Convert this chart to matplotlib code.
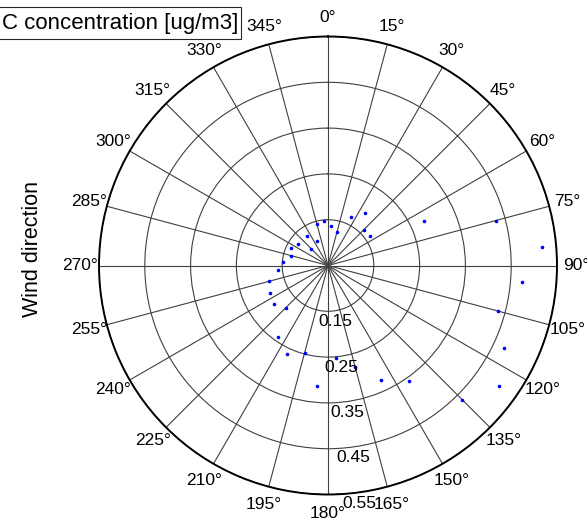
"""Polar scatter of concentration by wind direction (MATLAB-style polaraxes look).

One point per 10-degree wind sector, compass convention: 0 deg at the top,
angles increasing clockwise. The radial axis starts at 0.05, so the centre of
the plot is 0.05 rather than zero.
"""

import matplotlib

matplotlib.use("Agg")
import matplotlib.pyplot as plt  # noqa: E402
import numpy as np  # noqa: E402
from matplotlib.patches import Rectangle  # noqa: E402

plt.rcParams["font.family"] = ["Liberation Sans", "DejaVu Sans"]

# --- data: sector centre (deg) -> concentration ---
SECTOR_DEG = [5, 15, 25, 35, 45, 55, 65, 75, 85, 95, 105, 115,
              125, 135, 145, 155, 165, 175, 185, 195, 205, 215, 225, 235,
              245, 255, 265, 275, 285, 295, 305, 315, 325, 335, 345, 355]
CONC = [0.137, 0.125, 0.167, 0.189, 0.160, 0.163, 0.281, 0.429, 0.518, 0.475, 0.434, 0.475,
        0.507, 0.465, 0.359, 0.326, 0.279, 0.253, 0.315, 0.247, 0.263, 0.240, 0.181, 0.195,
        0.190, 0.184, 0.160, 0.149, 0.133, 0.140, 0.131, 0.101, 0.129, 0.109, 0.144, 0.148]

THETA_TICKS = list(range(0, 360, 15))
R_TICKS = [0.15, 0.25, 0.35, 0.45, 0.55]
R_MIN, R_MAX = 0.05, 0.55

TITLE = "C concentration [ug/m3]"
YLABEL = "Wind direction"

W, H = 587, 527  # output size in pixels at dpi=100
_GRID = "#404040"


def main():
    fig = plt.figure(figsize=(W / 100, H / 100), dpi=100)
    # centre (328, 265.5) px, radius 229 px
    ax = fig.add_axes([99 / W, 32.5 / H, 458 / W, 458 / H], projection="polar")
    ax.set_theta_zero_location("N")
    ax.set_theta_direction(-1)

    ax.plot(np.deg2rad(SECTOR_DEG), CONC, "o", color="blue",
            markersize=2.6, markeredgewidth=0, zorder=5)

    ax.set_rlim(R_MIN, R_MAX)
    ax.set_rticks(R_TICKS)
    ax.set_yticklabels([])
    ax.set_thetagrids(THETA_TICKS, [f"{t}\u00b0" for t in THETA_TICKS],
                      fontsize=12.5)
    ax.tick_params(axis="x", pad=3)
    ax.grid(True, color=_GRID, linewidth=0.8)
    ax.spines["polar"].set_color("black")
    ax.spines["polar"].set_linewidth(1.4)

    # radial labels sit just outside each ring, a little right of 180 deg
    for r in R_TICKS:
        ax.text(np.deg2rad(172.4), r + 0.024, f"{r:.2f}", fontsize=12.5,
                ha="center", va="center", zorder=6)

    fig.text(32 / W, 1 - 249 / H, YLABEL, rotation=90, fontsize=15.5,
             ha="center", va="center")

    # title box runs off the left edge of the figure
    fig.add_artist(Rectangle((-5 / W, 1 - 39 / H), 246 / W, 32 / H,
                             transform=fig.transFigure, facecolor="white",
                             edgecolor="#262626", linewidth=0.8))
    fig.text(2 / W, 1 - 23 / H, TITLE, fontsize=16, ha="left", va="center")

    fig.savefig("out.png", dpi=100)
    plt.close(fig)


if __name__ == "__main__":
    main()
